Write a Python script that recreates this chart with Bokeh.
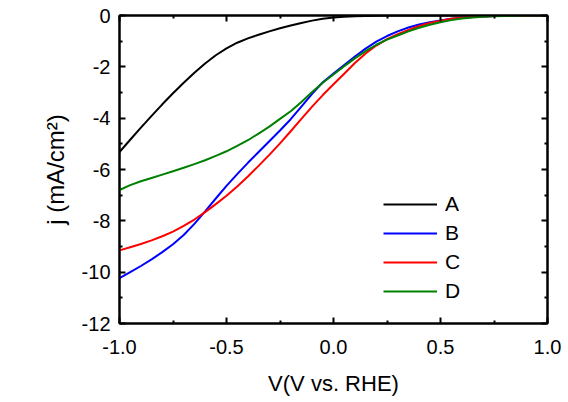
from bokeh.plotting import figure
from bokeh.models import (Range1d, LinearAxis, FixedTicker, Legend, LegendItem,
                          CustomJSTickFormatter)
from bokeh.embed import file_html
from bokeh.resources import INLINE

V = [-1.0, -0.95, -0.9, -0.85, -0.8, -0.75, -0.7, -0.65, -0.6, -0.55, -0.5,
     -0.45, -0.4, -0.35, -0.3, -0.25, -0.2, -0.15, -0.1, -0.05, 0.0,
     0.05, 0.1, 0.15, 0.2, 0.25, 0.3, 0.35, 0.4, 0.45, 0.5,
     0.55, 0.6, 0.65, 0.7, 0.75, 0.8, 0.85, 0.9, 0.95, 1.0]

j_A = [-5.32, -4.84, -4.37, -3.91, -3.46, -3.03, -2.62, -2.23, -1.87, -1.55, -1.28,
       -1.06, -0.89, -0.75, -0.62, -0.50, -0.39, -0.29, -0.20, -0.13, -0.08,
       -0.05, -0.03, -0.02, -0.01, 0.0, 0.0, 0.0, 0.0, 0.0, 0.0,
       0.0, 0.0, 0.0, 0.0, 0.0, 0.0, 0.0, 0.0, 0.0, 0.0]
j_B = [-10.23, -10.00, -9.76, -9.50, -9.22, -8.91, -8.55, -8.12, -7.63, -7.13, -6.64,
       -6.18, -5.74, -5.32, -4.90, -4.48, -4.04, -3.55, -3.05, -2.60, -2.26,
       -1.93, -1.60, -1.29, -1.02, -0.80, -0.62, -0.47, -0.35, -0.26, -0.19,
       -0.13, -0.09, -0.06, -0.04, -0.02, -0.01, 0.0, 0.0, 0.0, 0.0]
j_C = [-9.15, -9.03, -8.90, -8.76, -8.60, -8.42, -8.20, -7.95, -7.66, -7.35, -7.02,
       -6.66, -6.27, -5.86, -5.43, -4.98, -4.51, -4.03, -3.55, -3.10, -2.68,
       -2.27, -1.85, -1.48, -1.17, -0.92, -0.73, -0.56, -0.41, -0.29, -0.20,
       -0.13, -0.09, -0.06, -0.04, -0.02, -0.01, 0.0, 0.0, 0.0, 0.0]
j_D = [-6.80, -6.61, -6.46, -6.33, -6.20, -6.07, -5.93, -5.79, -5.64, -5.47, -5.29,
       -5.08, -4.86, -4.60, -4.33, -4.03, -3.73, -3.37, -2.98, -2.62, -2.30,
       -1.98, -1.67, -1.39, -1.14, -0.94, -0.78, -0.62, -0.48, -0.36, -0.26,
       -0.18, -0.12, -0.08, -0.05, -0.03, -0.02, -0.01, 0.0, 0.0, 0.0]

labels = ["A", "B", "C", "D"]
colors = ["#000000", "#0000FF", "#FF0000", "#008000"]
series = [j_A, j_B, j_C, j_D]

x_ticks = [-1.0, -0.5, 0.0, 0.5, 1.0]
x_minor = [-0.75, -0.25, 0.25, 0.75]
y_ticks = [0, -2, -4, -6, -8, -10, -12]
y_minor = [-1, -3, -5, -7, -9, -11]

FONT = "Liberation Sans"

p = figure(width=566, height=398, output_backend="svg", toolbar_location=None,
           x_range=Range1d(-1.0, 1.0), y_range=Range1d(-12, 0),
           x_axis_label="V(V vs. RHE)", y_axis_label="j (mA/cm²)",
           min_border_left=119, min_border_right=19, min_border_top=15,
           min_border_bottom=71)
p.grid.visible = False
p.outline_line_color = "black"
p.outline_line_width = 2
p.background_fill_color = "white"
p.border_fill_color = "white"

renderers = []
for ys, c in zip(series, colors):
    r = p.line(V, ys, line_color=c, line_width=2, line_join="round")
    renderers.append(r)

def style(ax, ticks, minor, fmt, standoff):
    ax.ticker = FixedTicker(ticks=ticks, minor_ticks=minor)
    ax.formatter = CustomJSTickFormatter(code=fmt)
    ax.axis_line_width = 2
    ax.axis_line_color = "black"
    ax.major_tick_in = 6
    ax.major_tick_out = 0
    ax.minor_tick_in = 3
    ax.minor_tick_out = 0
    ax.major_tick_line_width = 2
    ax.minor_tick_line_width = 2
    ax.major_label_text_font = FONT
    ax.major_label_text_color = "black"
    ax.major_label_text_font_size = "20px"
    ax.major_label_standoff = standoff

xa = p.xaxis[0]
style(xa, x_ticks, x_minor, "return tick.toFixed(1);", 16)
xa.axis_label_text_font = FONT
xa.axis_label_text_font_size = "22px"
xa.axis_label_text_font_style = "normal"
xa.axis_label_text_color = "black"
xa.axis_label_standoff = 14

ya = p.yaxis[0]
style(ya, y_ticks, y_minor, "return tick.toFixed(0);", 9)
ya.axis_label_text_font = FONT
ya.axis_label_text_font_size = "24px"
ya.axis_label_text_font_style = "normal"
ya.axis_label_text_color = "black"
ya.axis_label_standoff = 10

top = LinearAxis()
style(top, x_ticks, x_minor, "return '';", 0)
p.add_layout(top, "above")
right = LinearAxis()
style(right, y_ticks, y_minor, "return '';", 0)
p.add_layout(right, "right")

items = [LegendItem(label=l, renderers=[r]) for l, r in zip(labels, renderers)]
legend = Legend(items=items, location=(264, 20))
legend.border_line_alpha = 0
legend.background_fill_alpha = 0
legend.padding = 0
legend.margin = 0
legend.spacing = 5
legend.glyph_width = 54
legend.glyph_height = 24
legend.label_height = 24
legend.label_standoff = 8
legend.label_text_font = FONT
legend.label_text_font_size = "21px"
legend.label_text_color = "black"
p.add_layout(legend, "center")

open("out.html", "w").write(file_html(p, INLINE))
